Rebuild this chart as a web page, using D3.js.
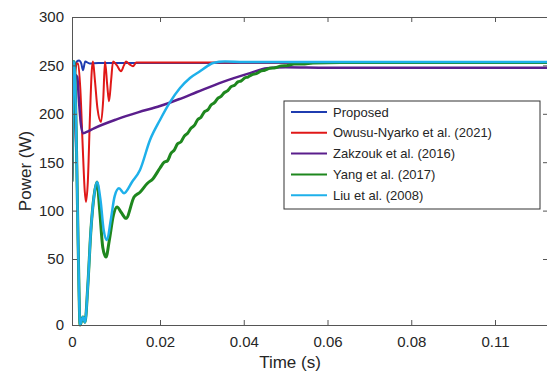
<!DOCTYPE html>
<html><head><meta charset="utf-8">
<script src="https://cdn.jsdelivr.net/npm/d3@7"></script>
<style>body{margin:0;background:#fff;} text{font-family:"Liberation Sans",Arial,sans-serif;fill:#262626;}</style>
</head><body><svg id="c" width="547" height="376"></svg>
<script>
const seriesNames = ["Proposed","Owusu-Nyarko et al. (2021)","Zakzouk et al. (2016)","Yang et al. (2017)","Liu et al. (2008)"];
const seriesColors = ["#1f3cb0","#e01818","#5a1e8c","#1e871e","#1eb0ea"];
const seriesWidths = [2,2,2.5,3,2.5];

const proposedT = [0,0.0003,0.0007,0.0011,0.0016,0.0021,0.0025,0.003,0.004,0.006,0.01,0.02,0.05,0.115];
const proposedP = [130,200,245,254,255,252,245,254,252,252.5,252.5,252.5,252.5,252.5];

const owusuT = [0,0.0004,0.0008,0.0011,0.0014,0.0019,0.0024,0.0029,0.00318,0.0036,0.0041,0.0045,0.00477,0.0052,0.0058,0.00659,0.0071,0.0075,0.008,0.00841,0.0089,0.00932,0.0102,0.01114,0.0118,0.01227,0.0131,0.01386,0.0146,0.016,0.02,0.115];
const owusuP = [130,200,245,252,252,225,170,120,109,130,200,245,254,235,205,191.5,215,254,230,213,235,254,250,244,250,254,251,249,253,253,253,253];

const zakzoukT = [0,0.0004,0.0008,0.0012,0.0016,0.002,0.0025,0.0032,0.005,0.01,0.015,0.02,0.0245,0.02884,0.03504,0.04149,0.04555,0.05,0.06,0.115];
const zakzoukP = [130,200,240,238,212,190,180,181,185,194,201.5,208,215,222.5,233,242,247,248,247.5,247.5];

const yangT = [0,0.0002,0.00045,0.0007,0.001,0.0013,0.0016,0.00182,0.0025,0.00295,0.0036,0.0043,0.005,0.00568,0.0063,0.007,0.00773,0.0085,0.0094,0.01023,0.0112,0.01227,0.0141,0.01545,0.0171,0.01841,0.02,0.021,0.0218,0.0226,0.0234,0.0242,0.025,0.0258,0.0266,0.0274,0.0282,0.029,0.0298,0.0306,0.0314,0.0322,0.033,0.0338,0.0346,0.0354,0.0362,0.037,0.0378,0.0386,0.0394,0.0402,0.041,0.042,0.043,0.044,0.045,0.0462,0.0475,0.049,0.0505,0.052,0.054,0.0565,0.063,0.115];
const yangP = [130,220,254,235,170,90,25,0,6,2,30,80,115,129.5,100,62,52,70,95,103.7,98,92,114,119,128,133,144,150,151.5,159,162.5,169,171,177,180,185,188,194,196.5,202,204,209,211.5,216,218,222,224,228,229.5,233,234,237,238,240.5,241.5,244,245,247,247.5,249.5,250,251.5,251.5,252.5,253,253];

const liuT = [0,0.0002,0.00045,0.0007,0.001,0.0013,0.0016,0.00182,0.0025,0.00295,0.0036,0.0043,0.005,0.00568,0.0065,0.0072,0.00795,0.0088,0.0097,0.01068,0.01182,0.01364,0.01545,0.01773,0.02,0.02239,0.02478,0.02716,0.02955,0.03122,0.03266,0.03552,0.04,0.115];
const liuP = [130,220,254,235,170,90,25,0,6,2,30,80,115,129.5,110,80,69.6,90,115,123,118,129.5,142,173,193.6,212,226.6,237,244,249,252.5,254,253.5,253.5];

const xTickValues = [0,0.02,0.04,0.06,0.08,0.10];
const xTickLabels = ["0","0.02","0.04","0.06","0.08","0.11"];
const yTickValues = [0,50,100,150,200,250,300];

const seriesT = [proposedT, owusuT, zakzoukT, yangT, liuT];
const seriesP = [proposedP, owusuP, zakzoukP, yangP, liuP];

const svg = d3.select("#c");
const L=72, R=548, T=17, B=325;
const x = d3.scaleLinear().domain([0,0.02,0.12]).range([72,160,578.75]);
const y = d3.scaleLinear().domain([0,50,300]).range([325,259,17]);

svg.append("defs").append("clipPath").attr("id","clip").append("rect")
  .attr("x",L).attr("y",T-3).attr("width",R-L).attr("height",B-T+6);

const line = d3.line().x(d=>x(d[0])).y(d=>y(d[1])).curve(d3.curveMonotoneX);
const g = svg.append("g").attr("clip-path","url(#clip)");
seriesT.forEach((ts,i)=>{
  g.append("path").datum(ts.map((t,j)=>[t,seriesP[i][j]]))
   .attr("d",line).attr("fill","none").attr("stroke",seriesColors[i])
   .attr("stroke-width",seriesWidths[i]).attr("stroke-linejoin","round");
});

const axisColor="#555";
function style(sel){ sel.selectAll(".domain").attr("stroke",axisColor);
  sel.selectAll(".tick line").attr("stroke",axisColor);
  sel.selectAll("text").style("font-family","'Liberation Sans',Arial,sans-serif").style("font-size","15px").attr("fill","#262626"); }

const fmt = v=>xTickLabels[xTickValues.indexOf(v)];
svg.append("g").attr("transform",`translate(0,${B})`)
  .call(d3.axisBottom(x).tickValues(xTickValues).tickFormat(fmt).tickSizeInner(-5).tickSizeOuter(0).tickPadding(11))
  .call(style);
svg.append("g").attr("transform",`translate(0,${T})`)
  .call(d3.axisTop(x).tickValues(xTickValues).tickFormat("").tickSizeInner(-5).tickSizeOuter(0))
  .call(style);
svg.append("g").attr("transform",`translate(${L},0)`)
  .call(d3.axisLeft(y).tickValues(yTickValues).tickSizeInner(-5).tickSizeOuter(0).tickPadding(8))
  .call(style);
svg.append("g").attr("transform",`translate(${R},0)`)
  .call(d3.axisRight(y).tickValues(yTickValues).tickFormat("").tickSizeInner(-5).tickSizeOuter(0))
  .call(style);

svg.append("text").attr("x",290).attr("y",368).attr("text-anchor","middle").style("font-size","17px").text("Time (s)");
svg.append("text").attr("transform","translate(31,171) rotate(-90)").attr("text-anchor","middle").style("font-size","17px").text("Power (W)");

const lg = svg.append("g");
lg.append("rect").attr("x",284).attr("y",101).attr("width",256).attr("height",108)
  .attr("fill","#fff").attr("stroke","#333").attr("stroke-width",1);
seriesNames.forEach((n,i)=>{
  const yy = 112 + i*20.8;
  lg.append("line").attr("x1",291).attr("x2",327).attr("y1",yy).attr("y2",yy)
    .attr("stroke",seriesColors[i]).attr("stroke-width",2);
  lg.append("text").attr("x",333).attr("y",yy).attr("dy","0.35em").style("font-size","13px").text(n);
});
</script></body></html>
